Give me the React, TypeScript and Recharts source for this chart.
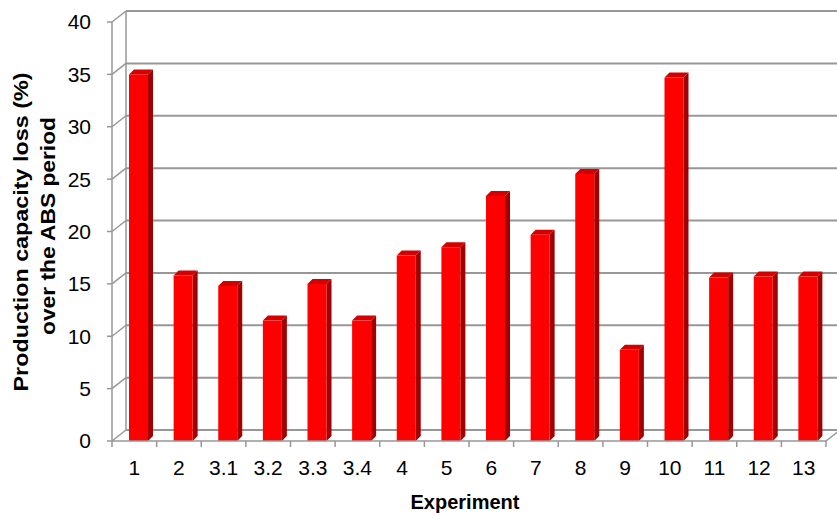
import { BarChart, Bar, XAxis, YAxis, CartesianGrid } from 'recharts';

const experiments = ['1', '2', '3.1', '3.2', '3.3', '3.4', '4', '5', '6', '7', '8', '9', '10', '11', '12', '13'];
const capacityLoss = [35.0, 15.8, 14.8, 11.5, 15.0, 11.5, 17.7, 18.5, 23.4, 19.7, 25.5, 8.7, 34.7, 15.6, 15.7, 15.7];
const yTicks = [0, 5, 10, 15, 20, 25, 30, 35, 40];

const data = experiments.map((name, i) => ({ name, loss: capacityLoss[i] }));

// depth of the back wall / floor
const WALL_DX = 14;
const WALL_DY = -11;
// depth of each bar
const BAR_DX = 5;
const BAR_DY = -5;
const BAR_SHIFT = 4;

const GRID = '#979797';
const FONT = '"Liberation Sans", Arial, sans-serif';

function WallLine(props: any) {
  const { x1, y1, x2, index, x, y, width, height } = props;
  const bx = x1 + WALL_DX;
  const by = y1 + WALL_DY;
  return (
    <g key={`wall-${index}`}>
      <line x1={x1} y1={y1} x2={bx} y2={by} stroke={GRID} strokeWidth={1.5} />
      <line x1={bx} y1={by} x2={x2 + WALL_DX} y2={by} stroke={GRID} strokeWidth={2} />
      {index === 0 && height != null && (
        <g>
          <line x1={x + WALL_DX} y1={y + WALL_DY} x2={x + WALL_DX} y2={y + height + WALL_DY} stroke={GRID} strokeWidth={1.5} />
          <line x1={x + width} y1={y + height} x2={x + width + WALL_DX} y2={y + height + WALL_DY} stroke={GRID} strokeWidth={1.5} />
        </g>
      )}
    </g>
  );
}

function Bar3D(props: any) {
  const { x, y, width, height } = props;
  if (!height || height <= 0) return null;
  const fx = x + BAR_SHIFT;
  const r = fx + width;
  return (
    <g>
      <polygon
        points={`${r},${y} ${r + BAR_DX},${y + BAR_DY} ${r + BAR_DX},${y + height + BAR_DY} ${r},${y + height}`}
        fill="#a00000"
      />
      <polygon
        points={`${fx},${y} ${fx + BAR_DX},${y + BAR_DY} ${r + BAR_DX},${y + BAR_DY} ${r},${y}`}
        fill="#d40000"
      />
      <rect x={fx} y={y} width={width} height={height} fill="#ff0000" />
    </g>
  );
}

function ExperimentTick(props: any) {
  const { x, y, payload, index, visibleTicksCount } = props;
  const half = payload && payload.offset ? payload.offset : 22.35;
  const last = index === visibleTicksCount - 1;
  return (
    <g>
      <line x1={x - half} y1={y} x2={x - half} y2={y + 6} stroke={GRID} strokeWidth={1.5} />
      {last && <line x1={x + half} y1={y} x2={x + half} y2={y + 6} stroke={GRID} strokeWidth={1.5} />}
      <text x={x} y={y + 34} textAnchor="middle" fontSize={21} fontFamily={FONT} fill="#000">
        {payload.value}
      </text>
    </g>
  );
}

export default function App() {
  return (
    <div style={{ position: 'relative', width: 837, height: 516, background: '#fff', overflow: 'hidden' }}>
      <style>{'body{margin:0}'}</style>
      <BarChart width={837} height={516} data={data} margin={{ top: 22, right: 11, left: 0, bottom: 0 }} barSize={19}>
        <CartesianGrid vertical={false} horizontal={(p: any) => <WallLine {...p} />} />
        <XAxis
          dataKey="name"
          height={75}
          interval={0}
          tickLine={false}
          tickSize={0}
          tickMargin={0}
          axisLine={{ stroke: GRID, strokeWidth: 1.5 }}
          tick={<ExperimentTick />}
        />
        <YAxis
          width={112}
          domain={[0, 40]}
          ticks={yTicks}
          interval={0}
          tickSize={5}
          tickMargin={16}
          axisLine={{ stroke: GRID, strokeWidth: 1.5 }}
          tickLine={{ stroke: GRID, strokeWidth: 1.5 }}
          tick={{ fontSize: 21, fontFamily: FONT, fill: '#000' }}
        />
        <Bar dataKey="loss" shape={<Bar3D />} isAnimationActive={false} />
      </BarChart>
      <svg width={837} height={516} style={{ position: 'absolute', left: 0, top: 0, pointerEvents: 'none' }}>
        <text
          transform="translate(28,232) rotate(-90)"
          textAnchor="middle"
          fontSize={21}
          fontWeight="bold"
          fontFamily={FONT}
          textLength={319}
          lengthAdjust="spacingAndGlyphs"
        >
          Production capacity loss (%)
        </text>
        <text
          transform="translate(55,226) rotate(-90)"
          textAnchor="middle"
          fontSize={21}
          fontWeight="bold"
          fontFamily={FONT}
          textLength={218}
          lengthAdjust="spacingAndGlyphs"
        >
          over the ABS period
        </text>
        <text x={465} y={509} textAnchor="middle" fontSize={20} fontWeight="bold" fontFamily={FONT}>
          Experiment
        </text>
      </svg>
    </div>
  );
}
